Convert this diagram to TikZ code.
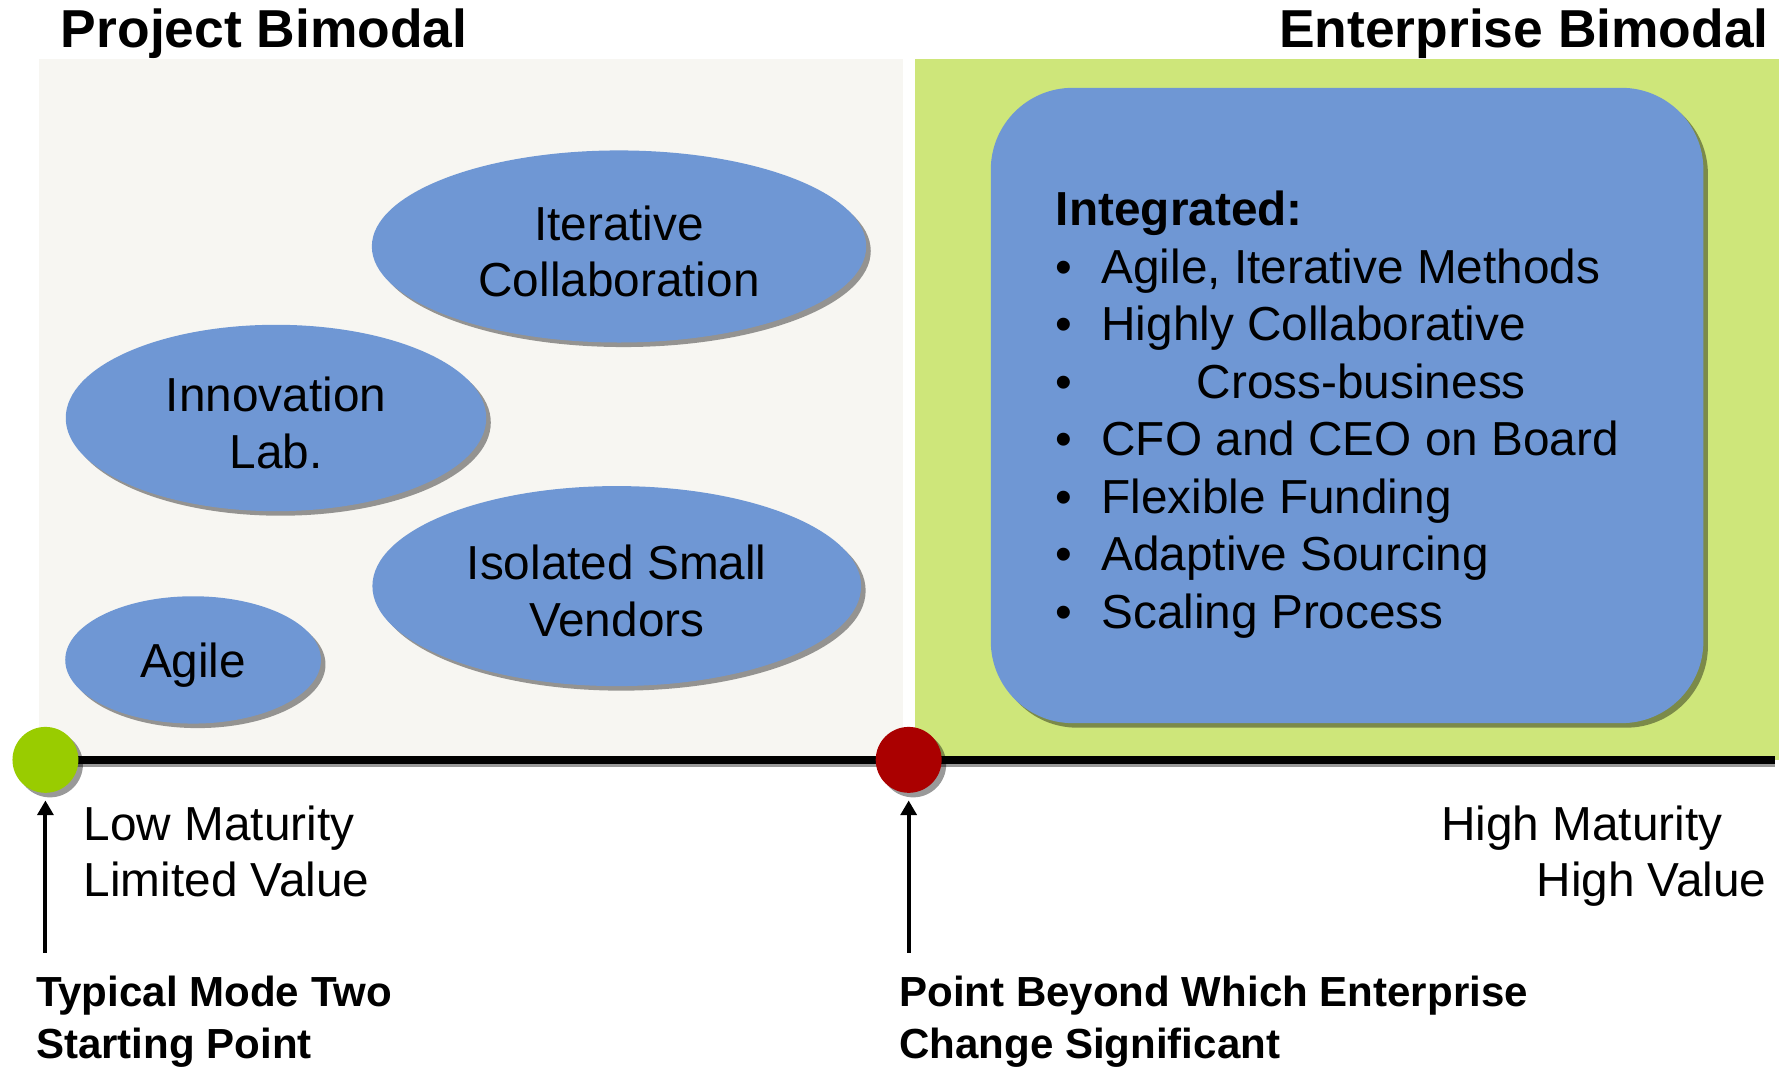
\documentclass[tikz,border=0pt]{standalone}
\usepackage{fontspec}
\setmainfont{Liberation Sans}
\usetikzlibrary{shapes.geometric,arrows.meta}

\definecolor{panelgray}{HTML}{F7F6F2}
\definecolor{panelgreen}{HTML}{CEE67A}
\definecolor{blobblue}{HTML}{6F97D4}
\definecolor{startgreen}{HTML}{99CC00}
\definecolor{pointred}{HTML}{AA0000}

\newcommand{\topstrut}{\rule{0pt}{0.39cm}}

\begin{document}
\begin{tikzpicture}[x=0.01cm, y=-0.01cm,
  shadowed/.style={preaction={fill=black, opacity=0.4, transform canvas={shift={(0.04cm,-0.04cm)}}}},
  blob/.style={ellipse, shadowed, fill=blobblue, inner sep=0pt, align=center, font=\fontsize{11.95}{14.2}\selectfont},
  milestone/.style={circle, shadowed, minimum size=0.58cm, inner sep=0pt},
  pointer/.style={line width=1pt, -{Triangle[width=4pt,length=3.7pt]}, shorten >=0.06cm},
  sidetitle/.style={font=\bfseries\fontsize{13.37}{16}\selectfont, inner sep=0pt},
  scaletext/.style={font=\fontsize{11.95}{14.2}\selectfont, inner sep=0pt},
  notetext/.style={font=\bfseries\fontsize{10.53}{12.8}\selectfont, inner sep=0pt, align=left}]

\useasboundingbox (0,0) rectangle (1568,940);

% panels
\fill [panelgray]  (34,52)  rectangle (795,669);
\fill [panelgreen] (806,52) rectangle (1566,669);

\node [sidetitle, anchor=base west] (projtitle) at (53,42)   {Project Bimodal};
\node [sidetitle, anchor=base east] (enttitle)  at (1558,42) {Enterprise Bimodal};

% project bimodal
\node [blob, minimum width=4.35cm, minimum height=1.69cm] (itercollab) at (545,217) {\topstrut Iterative\\Collaboration};
\node [blob, minimum width=3.70cm, minimum height=1.64cm] (innolab)    at (243,368) {\topstrut Innovation\\Lab.};
\node [blob, minimum width=4.30cm, minimum height=1.76cm] (isolvend)   at (543,516) {\topstrut Isolated Small\\Vendors};
\node [blob, minimum width=2.25cm, minimum height=1.12cm, text depth=0pt] (agile) at (170,581) {Agile};

% enterprise bimodal
\node [shadowed, fill=blobblue, rounded corners=0.72cm, minimum width=6.27cm, minimum height=5.59cm] (intbox) at (1186,357) {};
\node [scaletext, anchor=north west, align=left, font=\fontsize{11.95}{14.4}\selectfont] (intlist) at (929,167.5)
  {\textbf{Integrated:}\\
   \makebox[0.40cm][l]{\textbullet}Agile, Iterative Methods\\
   \makebox[0.40cm][l]{\textbullet}Highly Collaborative\\
   \makebox[1.24cm][l]{\textbullet}Cross-business\\
   \makebox[0.40cm][l]{\textbullet}CFO and CEO on Board\\
   \makebox[0.40cm][l]{\textbullet}Flexible Funding\\
   \makebox[0.40cm][l]{\textbullet}Adaptive Sourcing\\
   \makebox[0.40cm][l]{\textbullet}Scaling Process};

% maturity axis
\coordinate (gpos)    at (40,669);
\coordinate (rpos)    at (800,669);
\coordinate (axisend) at (1563,669);
\draw [line width=1.9pt, preaction={draw=black!40, line width=1.9pt, transform canvas={yshift=-0.025cm}}] (gpos) -- (axisend);

\node [milestone, fill=startgreen] (gdot) at (gpos) {};
\node [milestone, fill=pointred]   (rdot) at (rpos) {};

\coordinate (gtail) at (40,839);
\coordinate (rtail) at (800,839);
\draw [pointer] (gtail) -- (gdot);
\draw [pointer] (rtail) -- (rdot);

\node [scaletext, anchor=north west, align=left]  (lowlabel)  at (73,708.5)  {Low Maturity\\Limited Value};
\node [scaletext, anchor=north east, align=right] (highlabel) at (1556,708.5) {High Maturity\hspace*{0.39cm}\\High Value};

\node [notetext, anchor=north west] (startnote) at (31,859)  {Typical Mode Two\\Starting Point};
\node [notetext, anchor=north west] (pointnote) at (791,859) {Point Beyond Which Enterprise\\Change Significant};

\end{tikzpicture}
\end{document}
